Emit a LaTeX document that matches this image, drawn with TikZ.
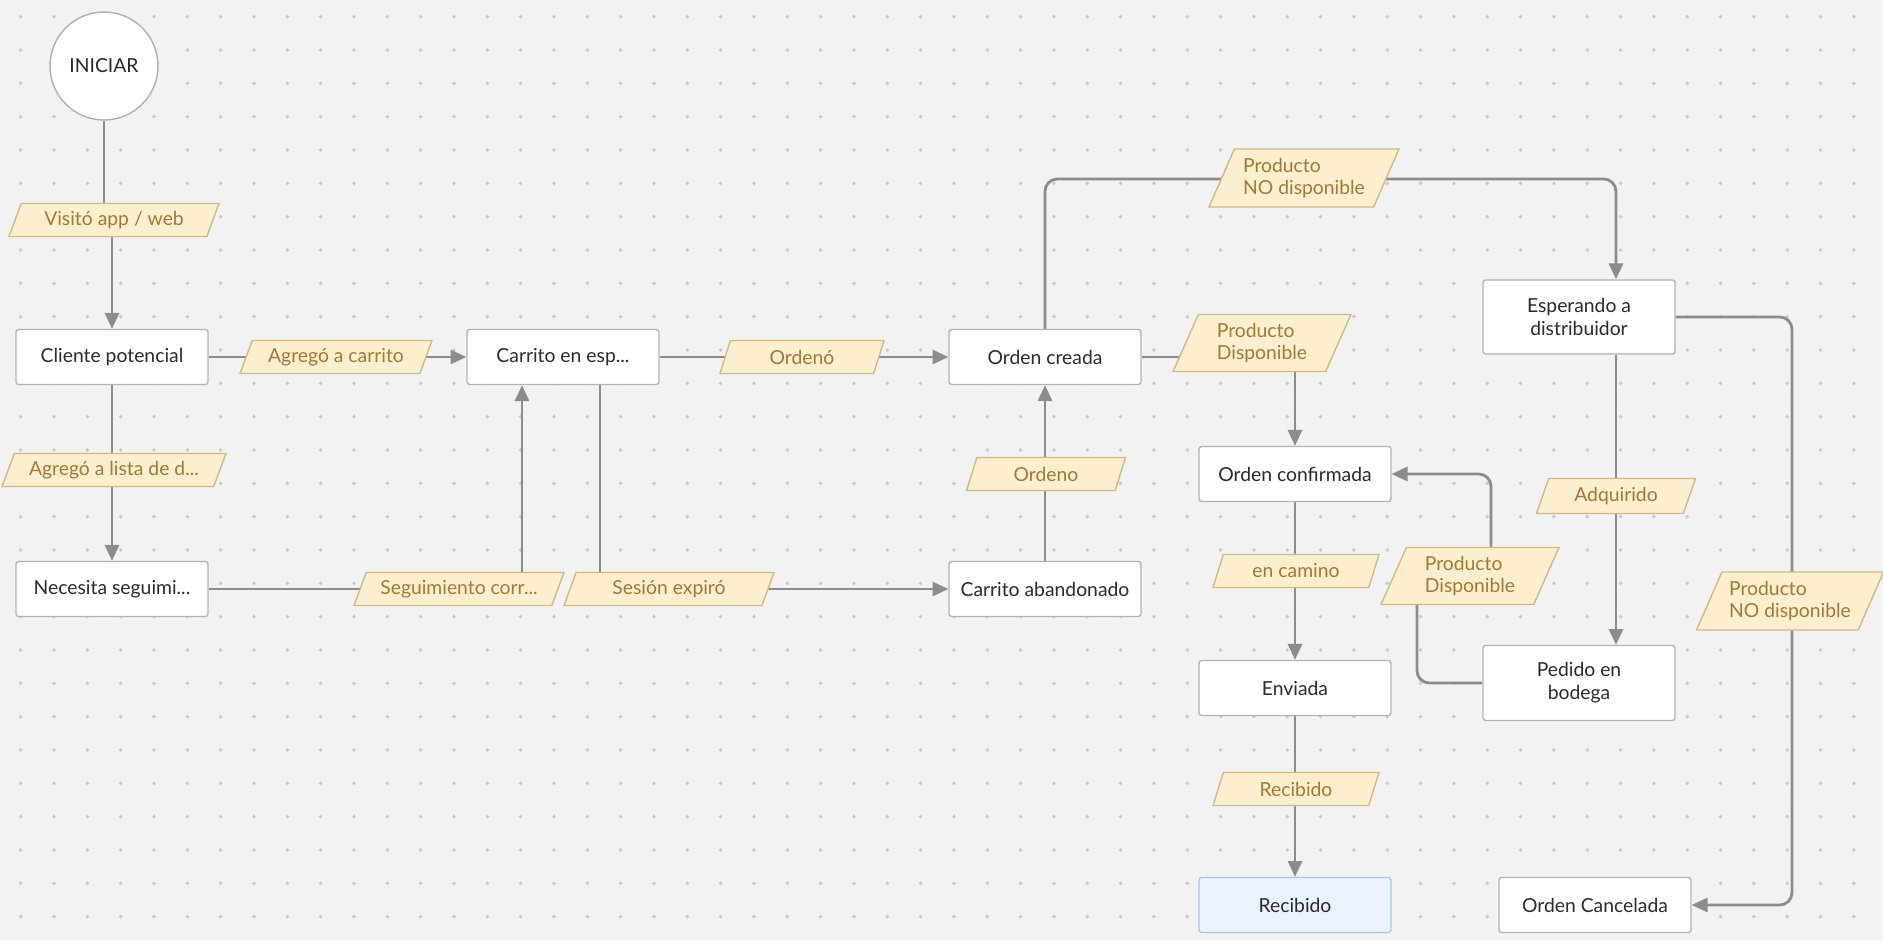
\documentclass[tikz,border=0pt]{standalone}
\usepackage{fontspec}
\setmainfont{Lato}
\usetikzlibrary{shapes.geometric,arrows.meta,calc}
\definecolor{bgc}{HTML}{F2F2F2}
\definecolor{dotc}{HTML}{C9C9C9}
\definecolor{linec}{HTML}{8C8C8C}
\definecolor{boxb}{HTML}{B3B3B3}
\definecolor{boxt}{HTML}{2A2A2A}
\definecolor{labf}{HTML}{FCEFCF}
\definecolor{labb}{HTML}{D3B886}
\definecolor{labt}{HTML}{A57833}
\definecolor{recf}{HTML}{EAF3FD}
\definecolor{recb}{HTML}{A9C6E6}
\definecolor{circb}{HTML}{B0B0B0}
\newcommand\fsz{\fontsize{11}{13}\selectfont}
\pgfdeclarelayer{bgl}
\pgfdeclarelayer{edges}
\pgfsetlayers{bgl,edges,main}
\begin{document}
\begin{tikzpicture}[x=0.02cm,y=-0.02cm,
  conn/.style={draw=linec, line width=1.6pt},
  arr/.style={-{Triangle[length=9pt,width=8pt]}},
  box/.style={rectangle, draw=boxb, fill=white, line width=0.8pt, rounded corners=1.5pt,
    minimum width=3.84cm, minimum height=1.1cm, text=boxt, font=\fsz, align=center, inner sep=2pt},
  lab/.style={trapezium, trapezium left angle=60, trapezium right angle=120,
    trapezium stretches body, draw=labb, fill=labf, line width=0.8pt, text=labt,
    font=\fsz, minimum height=0.66cm, inner sep=1pt, align=left}
]
\useasboundingbox (0,0) rectangle (1883,940);
\begin{pgfonlayer}{bgl}
\fill[bgc] (0,0) rectangle (1883,940);
\foreach \i in {0,...,55} {
  \foreach \j in {0,...,27} {
    \fill[dotc] (20.7+\i*33.33, 16.7+\j*33.33) circle[radius=1.1pt];
  }
}
\end{pgfonlayer}

% boxes
\node[circle, draw=circb, fill=white, minimum size=2.16cm, line width=0.8pt, text=boxt, font=\fsz] (ini) at (104,66) {INICIAR};
\node[box] (cli) at (112,357) {Cliente potencial};
\node[box] (car) at (563,357) {Carrito en esp...};
\node[box] (cre) at (1045,357) {Orden creada};
\node[box] (nec) at (112,589) {Necesita seguimi...};
\node[box] (aba) at (1045,589) {Carrito abandonado};
\node[box] (con) at (1295,474) {Orden confirmada};
\node[box] (env) at (1295,688) {Enviada};
\node[box, fill=recf, draw=recb] (rec) at (1295,905) {Recibido};
\node[box, minimum height=1.48cm] (esp) at (1579,317) {Esperando a\\distribuidor};
\node[box, minimum height=1.5cm] (ped) at (1579,683) {Pedido en\\bodega};
\node[box] (can) at (1595,905) {Orden Cancelada};

% labels
\node[lab, minimum width=4.2cm] (l1) at (114,220) {Visitó app / web};
\node[lab, minimum width=3.84cm] (l2) at (336,357) {Agregó a carrito};
\node[lab, minimum width=3.28cm] (l3) at (802,357) {Ordenó};
\node[lab, minimum width=3.56cm, minimum height=1.14cm] (l4) at (1262,343) {Producto\\Disponible};
\node[lab, minimum width=3.8cm, minimum height=1.16cm] (l5) at (1304,178) {Producto\\NO disponible};
\node[lab, minimum width=4.48cm] (l6) at (114,470) {Agregó a lista de d...};
\node[lab, minimum width=4.2cm] (l7) at (459,589) {Seguimiento corr...};
\node[lab, minimum width=4.2cm] (l8) at (669,589) {Sesión expiró};
\node[lab, minimum width=3.18cm] (l9) at (1046,474) {Ordeno};
\node[lab, minimum width=3.32cm] (l10) at (1296,571) {en camino};
\node[lab, minimum width=3.32cm] (l11) at (1296,789) {Recibido};
\node[lab, minimum width=3.18cm, minimum height=0.7cm] (l12) at (1616,496) {Adquirido};
\node[lab, minimum width=3.74cm, minimum height=1.16cm] (l13) at (1790,601) {Producto\\NO disponible};
\node[lab, minimum width=3.56cm, minimum height=1.14cm] (l14) at (1470,576) {Producto\\Disponible};

\coordinate (topy) at (0,179);
\coordinate (rx) at (1792,0);
\coordinate (lxa) at (1417,0);
\coordinate (lxb) at (1491,0);

\begin{pgfonlayer}{edges}
\draw[conn,arr] (ini.south) -- (ini.south |- l1.center) -- (cli.north |- l1.center) -- (cli.north);
\draw[conn,arr] (cli) -- (car);
\draw[conn,arr] (car) -- (cre);
\draw[conn,arr] (cre.east) -| (con.north);
\draw[conn,arr,rounded corners=7pt] (cre.north) |- ([xshift=0.74cm]esp.north |- topy) -- ([xshift=0.74cm]esp.north);
\draw[conn,arr] ([xshift=0.74cm]esp.south) -- ([xshift=0.74cm]ped.north);
\draw[conn,arr,rounded corners=7pt] (esp.east) -| (rx |- can.east) -- (can.east);
\draw[conn,arr] (cli) -- (nec);
\draw[conn,arr] (nec.east) -| ([xshift=-0.82cm]car.south);
\draw[conn,arr] ([xshift=0.74cm]car.south) |- (aba.west);
\draw[conn,arr] (aba) -- (cre);
\draw[conn,arr] (con) -- (env);
\draw[conn,arr] (env) -- (rec);
\draw[conn,arr,rounded corners=7pt] (ped.west) -| (lxa |- l14.center) -- (lxb |- l14.center) |- (con.east);
\end{pgfonlayer}
\end{tikzpicture}
\end{document}
